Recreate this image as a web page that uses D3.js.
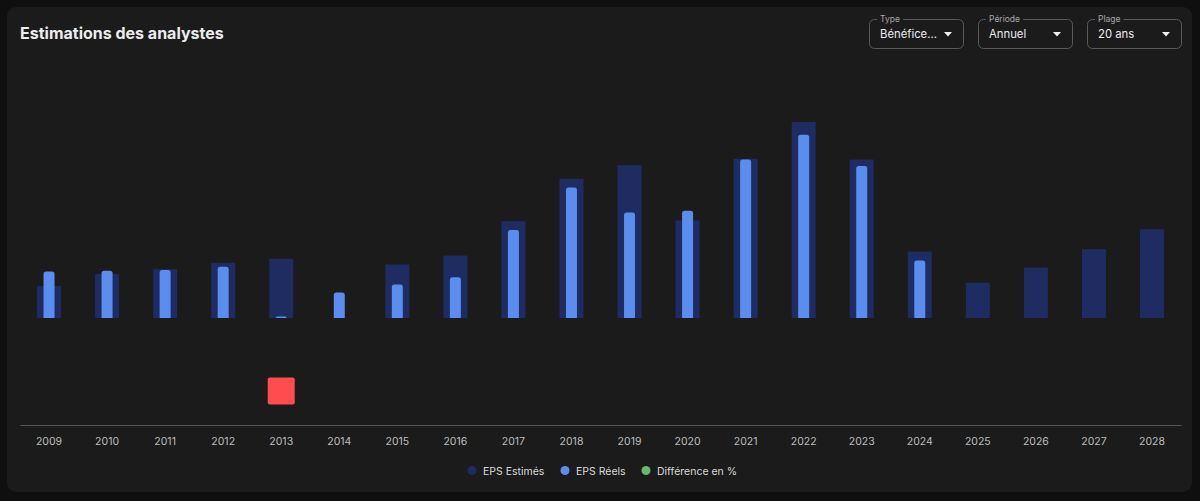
<!DOCTYPE html>
<html>
<head>
<meta charset="utf-8">
<script src="https://cdn.jsdelivr.net/npm/d3@7/dist/d3.min.js"></script>
<style>
  html, body { margin: 0; padding: 0; background: #0f0f0f; }
  svg { display: block; font-family: Inter, "Noto Sans", sans-serif; }
</style>
</head>
<body>
<svg id="chart" width="1200" height="501"></svg>
<script>
const years = ["2009","2010","2011","2012","2013","2014","2015","2016","2017","2018","2019","2020","2021","2022","2023","2024","2025","2026","2027","2028"];
const epsEstimated = [0.40,0.55,0.61,0.69,0.74,null,0.67,0.78,1.21,1.74,1.91,1.22,1.99,2.45,1.98,0.83,0.44,0.63,0.86,1.11];
const epsActual = [0.58,0.59,0.60,0.64,0.02,0.32,0.42,0.51,1.10,1.63,1.32,1.34,1.98,2.29,1.90,0.72,null,null,null,null];
const diffPct = [null,null,null,null,-97,null,null,null,null,null,null,null,null,null,null,null,null,null,null,null];
const legendLabels = ["EPS Estimés","EPS Réels","Différence en %"];
const dropdowns = [{label:"Type", value:"Bénéfice..."},{label:"Période", value:"Annuel"},{label:"Plage", value:"20 ans"}];

const colEst = "#1e2c62", colAct = "#5b8def", colPos = "#66bb6a", colNeg = "#ff4d4f";

const svg = d3.select("#chart");
svg.append("rect").attr("x",7).attr("y",7).attr("width",1185).attr("height",485).attr("rx",9).attr("fill","#1b1b1b");

svg.append("text").attr("x",20).attr("y",39).text("Estimations des analystes")
  .attr("fill","#ececec").attr("font-size",16).attr("font-weight",700);

// dropdowns
const ddX = [869, 978, 1087], ddW = 95;
dropdowns.forEach((d,i)=>{
  const g = svg.append("g").attr("transform",`translate(${ddX[i]},19)`);
  g.append("rect").attr("x",0.5).attr("y",0.5).attr("width",ddW-1).attr("height",29).attr("rx",5)
    .attr("fill","none").attr("stroke","#5a5a5a");
  const lbl = g.append("text").attr("x",11).attr("y",3).text(d.label).attr("fill","#a8a8a8").attr("font-size",8.5);
  const w = lbl.node().getComputedTextLength();
  g.insert("rect", "text").attr("x",8).attr("y",-2).attr("width",w+6).attr("height",5).attr("fill","#1b1b1b");
  g.append("text").attr("x",11).attr("y",18.5).text(d.value).attr("fill","#ececec").attr("font-size",11.3);
  g.append("path").attr("d",`M${ddW-20},13 l8,0 l-4,4.5 z`).attr("fill","#f0f0f0");
});

const x = d3.scaleBand().domain(years).range([20,1181]).padding(0);
const y = d3.scaleLinear().domain([0,2.5]).range([318,118]);
const yDiff = d3.scaleLinear().domain([-100,0]).range([393.3,318]);

const estW = 24, actW = 11;
svg.append("g").selectAll("rect").data(years.map((yr,i)=>({yr,v:epsEstimated[i]})).filter(d=>d.v!=null))
  .join("rect")
  .attr("x",d=>x(d.yr)+x.bandwidth()/2-estW/2).attr("width",estW)
  .attr("y",d=>y(d.v)).attr("height",d=>y(0)-y(d.v)).attr("fill",colEst);

function topRounded(x0,y0,w,h,r){
  r = Math.min(r,h,w/2);
  return `M${x0},${y0+h} L${x0},${y0+r} Q${x0},${y0} ${x0+r},${y0} L${x0+w-r},${y0} Q${x0+w},${y0} ${x0+w},${y0+r} L${x0+w},${y0+h} Z`;
}
svg.append("g").selectAll("path").data(years.map((yr,i)=>({yr,v:epsActual[i]})).filter(d=>d.v!=null))
  .join("path")
  .attr("d",d=>topRounded(x(d.yr)+x.bandwidth()/2-actW/2, y(d.v), actW, y(0)-y(d.v), 2.5))
  .attr("fill",colAct);

// difference markers
const sq = 27;
svg.append("g").selectAll("rect").data(years.map((yr,i)=>({yr,v:diffPct[i]})).filter(d=>d.v!=null))
  .join("rect")
  .attr("x",d=>x(d.yr)+x.bandwidth()/2-sq/2).attr("y",d=>yDiff(d.v)-sq/2)
  .attr("width",sq).attr("height",sq).attr("rx",2)
  .attr("fill",d=>d.v<0?colNeg:colPos);

// x axis
const axisG = svg.append("g").attr("transform","translate(0,425)")
  .call(d3.axisBottom(x).tickSize(0).tickPadding(13));
axisG.select(".domain").attr("stroke","#555").attr("stroke-width",1);
axisG.selectAll("text").attr("fill","#bdbdbd").attr("font-size",10.5).attr("font-family","Inter, sans-serif");

// legend
const legCols = [colEst, colAct, colPos];
const legX = [472, 565, 646];
legendLabels.forEach((l,i)=>{
  svg.append("circle").attr("cx",legX[i]).attr("cy",470.5).attr("r",4.5).attr("fill",legCols[i]);
  svg.append("text").attr("x",legX[i]+11).attr("y",474.5).text(l).attr("fill","#d8d8d8").attr("font-size",10.5);
});
</script>
</body>
</html>
